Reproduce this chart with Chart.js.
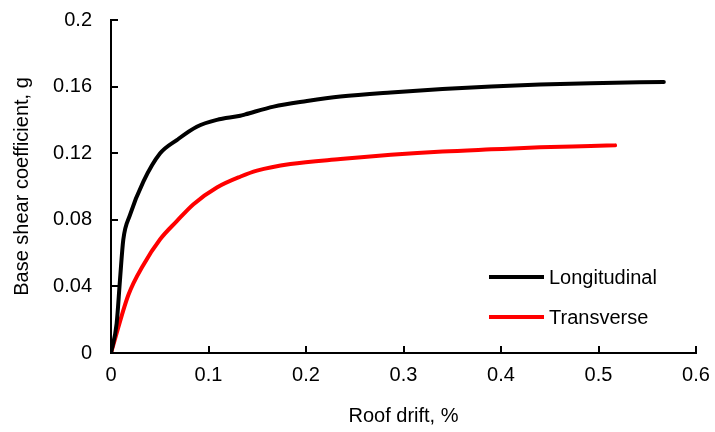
<!DOCTYPE html>
<html>
<head>
<meta charset="utf-8">
<script src="https://cdn.jsdelivr.net/npm/chart.js@4/dist/chart.umd.min.js"></script>
<style>
  html, body { margin: 0; padding: 0; background: #fff; }
  #wrap { position: relative; width: 715px; height: 432px; }
  #legend { position: absolute; left: 489px; top: 257px; font-family: "Liberation Sans", Arial, sans-serif; font-size: 20px; color: #000; }
  .item { display: flex; align-items: center; height: 40px; }
  .swatch { width: 55px; height: 4px; margin-right: 5px; }
</style>
</head>
<body>
<div id="wrap">
  <canvas id="c" width="715" height="432"></canvas>
  <div id="legend"></div>
</div>
<script>
// ---- data ----
const seriesNames = ['Longitudinal', 'Transverse'];
const seriesColors = ['#000000', '#ff0000'];

const longX = [0, 0.0058, 0.0092, 0.0126, 0.0195, 0.0332, 0.0504, 0.0675, 0.088, 0.1086, 0.1326, 0.1377, 0.1668, 0.201, 0.2353, 0.287, 0.34, 0.39, 0.44, 0.492, 0.567];
const longY = [0, 0.0178, 0.0438, 0.068, 0.0829, 0.1029, 0.1199, 0.1279, 0.1359, 0.140, 0.1425, 0.1433, 0.148, 0.1513, 0.154, 0.1565, 0.1585, 0.160, 0.1612, 0.162, 0.1628];

const transX = [0, 0.0178, 0.0332, 0.0504, 0.0675, 0.0846, 0.1086, 0.133, 0.1497, 0.184, 0.2353, 0.287, 0.34, 0.39, 0.44, 0.492, 0.517];
const transY = [0, 0.0348, 0.0529, 0.0683, 0.0792, 0.0894, 0.0994, 0.106, 0.1095, 0.1135, 0.1165, 0.119, 0.121, 0.1223, 0.1235, 0.1243, 0.1247];

const xTicks = [0, 0.1, 0.2, 0.3, 0.4, 0.5, 0.6];
const xTickLabels = ['0', '0.1', '0.2', '0.3', '0.4', '0.5', '0.6'];
const yTicks = [0, 0.04, 0.08, 0.12, 0.16, 0.2];
const yTickLabels = ['0', '0.04', '0.08', '0.12', '0.16', '0.2'];

const xTitle = 'Roof drift, %';
const yTitle = 'Base shear coefficient, g';

// ---- chart ----
const toPts = (xs, ys) => xs.map((x, i) => ({ x: x, y: ys[i] }));
const FONT = "'Liberation Sans', Arial, sans-serif";

const inwardTicks = {
  id: 'inwardTicks',
  afterDraw(chart) {
    const ctx = chart.ctx;
    const xs = chart.scales.x, ys = chart.scales.y;
    ctx.save();
    ctx.strokeStyle = '#000';
    ctx.lineWidth = 2;
    ctx.beginPath();
    xs.ticks.forEach(t => {
      const px = Math.round(xs.getPixelForValue(t.value));
      ctx.moveTo(px, ys.bottom);
      ctx.lineTo(px, ys.bottom - 7);
    });
    ys.ticks.forEach(t => {
      const py = Math.round(ys.getPixelForValue(t.value));
      ctx.moveTo(xs.left, py);
      ctx.lineTo(xs.left + 7, py);
    });
    ctx.stroke();
    ctx.restore();
  }
};

const chart = new Chart(document.getElementById('c'), {
  type: 'scatter',
  data: {
    datasets: [
      { label: seriesNames[0], data: toPts(longX, longY), showLine: true, borderColor: seriesColors[0], backgroundColor: seriesColors[0], borderWidth: 4, pointRadius: 0, cubicInterpolationMode: 'monotone', borderCapStyle: 'round' },
      { label: seriesNames[1], data: toPts(transX, transY), showLine: true, borderColor: seriesColors[1], backgroundColor: seriesColors[1], borderWidth: 4, pointRadius: 0, cubicInterpolationMode: 'monotone', borderCapStyle: 'round' }
    ]
  },
  options: {
    responsive: false,
    animation: false,
    layout: { padding: { left: 0, right: 19, top: 20, bottom: 0 } },
    plugins: { legend: { display: false }, tooltip: { enabled: false } },
    scales: {
      x: {
        type: 'linear', min: 0, max: 0.6,
        afterBuildTicks: s => { s.ticks = xTicks.map(v => ({ value: v })); },
        afterFit: s => { s.height = 79; s.paddingLeft = 0; s.paddingRight = 0; },
        ticks: { callback: (v, i) => xTickLabels[i], font: { family: FONT, size: 20 }, color: '#000', padding: 10, maxRotation: 0 },
        grid: { display: false, drawTicks: false },
        border: { display: true, color: '#000', width: 2 },
        title: { display: true, text: xTitle, font: { family: FONT, size: 20 }, color: '#000', padding: { top: 4 } }
      },
      y: {
        type: 'linear', min: 0, max: 0.2,
        afterBuildTicks: s => { s.ticks = yTicks.map(v => ({ value: v })); },
        afterFit: s => { s.width = 111; s.paddingTop = 0; s.paddingBottom = 0; },
        ticks: { callback: (v, i) => yTickLabels[i], font: { family: FONT, size: 20 }, color: '#000', padding: 19 },
        grid: { display: false, drawTicks: false },
        border: { display: true, color: '#000', width: 2 },
        title: { display: true, text: yTitle, font: { family: FONT, size: 20 }, color: '#000', padding: { top: 10, bottom: 0 } }
      }
    }
  },
  plugins: [inwardTicks]
});

// HTML legend built from the datasets
const leg = document.getElementById('legend');
chart.data.datasets.forEach(ds => {
  const it = document.createElement('div');
  it.className = 'item';
  const sw = document.createElement('span');
  sw.className = 'swatch';
  sw.style.background = ds.borderColor;
  const tx = document.createElement('span');
  tx.textContent = ds.label;
  it.appendChild(sw); it.appendChild(tx);
  leg.appendChild(it);
});
</script>
</body>
</html>
